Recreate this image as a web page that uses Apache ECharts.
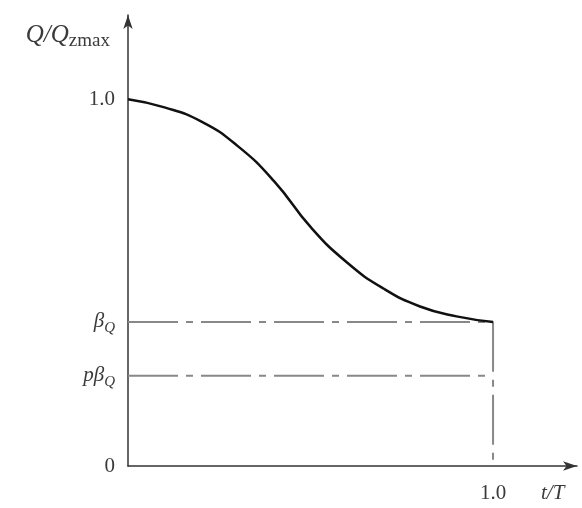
<!DOCTYPE html>
<html>
<head>
<meta charset="utf-8">
<script src="https://cdn.jsdelivr.net/npm/echarts@6/dist/echarts.min.js"></script>
<style>html,body{margin:0;padding:0;background:#fff}#c{width:582px;height:508px}</style>
</head>
<body>
<div id="c"></div>
<script>
// Data
const curveX = [0, 0.1, 0.2, 0.3, 0.4, 0.5, 0.6, 0.7, 0.8, 0.9, 1.0];
const curveY = [1.0, 0.978, 0.940, 0.873, 0.777, 0.652, 0.555, 0.484, 0.435, 0.408, 0.393];
const betaQ = 0.393;
const pBetaQ = 0.246;
const tEnd = 1.0;
const yTickValues = [0, pBetaQ, betaQ, 1.0];
const xTickValues = [1.0];
const yTickLabels = ['0', '{i|pβ}{s|Q}', '{i|β}{s|Q}', '1.0'];
const xTickLabels = ['1.0'];

const serif = 'Liberation Serif';
const txt = '#3a3a3a';
const dashDot = [50, 8, 7, 8];

const chart = echarts.init(document.getElementById('c'), null, {renderer: 'canvas'});
chart.setOption({
  animation: false,
  backgroundColor: '#fff',
  grid: {left: 128, right: 5, top: 15, bottom: 42, containLabel: false},
  xAxis: {
    type: 'value', min: 0, max: 1.23,
    splitLine: {show: false},
    axisLine: {show: true, symbol: ['none', 'arrow'], symbolSize: [7, 14], lineStyle: {color: '#333', width: 1.5}},
    axisTick: {show: false},
    axisLabel: {
      customValues: xTickValues,
      formatter: v => xTickLabels[xTickValues.indexOf(v)] || '',
      fontFamily: serif, fontSize: 21, color: txt, margin: 17
    },
    name: 't/T', nameLocation: 'end', nameGap: -36,
    nameTextStyle: {fontFamily: serif, fontStyle: 'italic', fontSize: 21, color: txt, verticalAlign: 'top', padding: [17, 0, 0, 0]}
  },
  yAxis: {
    type: 'value', min: 0, max: 1.23,
    splitLine: {show: false},
    axisLine: {show: true, symbol: ['none', 'arrow'], symbolSize: [7, 14], lineStyle: {color: '#333', width: 1.5}},
    axisTick: {show: false},
    axisLabel: {
      customValues: yTickValues,
      formatter: v => yTickLabels[yTickValues.indexOf(v)] || '',
      fontFamily: serif, fontSize: 21, color: txt, margin: 13,
      rich: {
        i: {fontFamily: serif, fontStyle: 'italic', fontSize: 21, color: txt},
        s: {fontFamily: serif, fontStyle: 'italic', fontSize: 15, color: txt, padding: [13, 0, 0, 0]}
      }
    },
    name: '{i|Q/Q}{s|zmax}', nameLocation: 'end', nameGap: -36,
    nameTextStyle: {
      align: 'right', verticalAlign: 'bottom', padding: [0, 18, 0, 0],
      rich: {
        i: {fontFamily: serif, fontStyle: 'italic', fontSize: 25, color: txt},
        s: {fontFamily: serif, fontSize: 19, color: txt, padding: [12, 0, 0, 0]}
      }
    }
  },
  series: [
    {
      type: 'line', name: 'beta', symbol: 'none', silent: true,
      data: [[0, betaQ], [tEnd, betaQ], [tEnd, 0]],
      lineStyle: {color: '#888', width: 2, type: dashDot}
    },
    {
      type: 'line', name: 'pbeta', symbol: 'none', silent: true,
      data: [[0, pBetaQ], [tEnd, pBetaQ]],
      lineStyle: {color: '#888', width: 2, type: dashDot}
    },
    {
      type: 'line', name: 'curve', symbol: 'none', smooth: 0.5, silent: true,
      data: curveX.map((x, i) => [x, curveY[i]]),
      lineStyle: {color: '#111', width: 2.5}
    }
  ]
});
</script>
</body>
</html>
